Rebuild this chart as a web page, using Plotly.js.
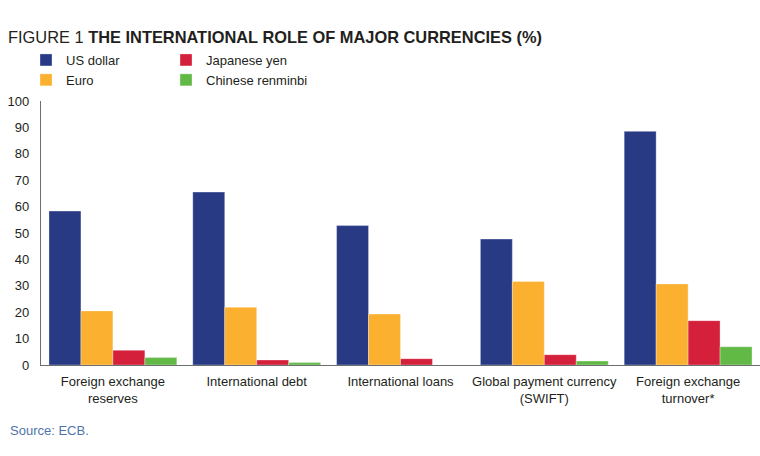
<!DOCTYPE html>
<html>
<head>
<meta charset="utf-8">
<script src="https://cdn.plot.ly/plotly-3.0.1.min.js"></script>
<style>
  html, body { margin: 0; padding: 0; background: #ffffff; }
  #chart { width: 760px; height: 456px; }
</style>
</head>
<body>
<div id="chart"></div>
<script>
// Share of each currency in five measures of international use (%)
const categories = [
  'Foreign exchange<br>reserves',
  'International debt',
  'International loans',
  'Global payment currency<br>(SWIFT)',
  'Foreign exchange<br>turnover*'
];
const usDollar  = [58.3, 65.5, 52.8, 47.7, 88.5];
const euro      = [20.5, 21.9, 19.3, 31.6, 30.7];
const yen       = [5.6, 1.9, 2.4, 3.9, 16.8];
const renminbi  = [2.8, 0.9, 0, 1.5, 6.9];
const yTicks    = [0, 10, 20, 30, 40, 50, 60, 70, 80, 90, 100];

const textColor = '#231f20';
const fontFamily = '"Liberation Sans", Arial, sans-serif';

// Plot area in pixels, used to place the source note in paper units
const W = 760, H = 456;
const M = { l: 41, r: 0, t: 101, b: 91 };
const plotW = W - M.l - M.r;
const plotH = H - M.t - M.b;

function barTrace(name, values, color, legendId, rank) {
  return {
    type: 'bar',
    name: name,
    x: categories,
    y: values,
    legend: legendId,
    legendrank: rank,
    marker: { color: color, line: { color: 'rgba(255,255,255,0.55)', width: 0.6 } },
    hoverinfo: 'skip'
  };
}

const data = [
  barTrace('US dollar', usDollar, '#283a83', 'legend', 1),
  barTrace('Euro', euro, '#fbb02f', 'legend', 2),
  barTrace('Japanese yen', yen, '#d5203b', 'legend2', 1),
  barTrace('Chinese renminbi', renminbi, '#62b946', 'legend2', 2)
];

const legendBase = {
  xref: 'container', yref: 'container',
  xanchor: 'left', yanchor: 'top',
  orientation: 'v',
  bgcolor: 'rgba(0,0,0,0)',
  borderwidth: 0,
  tracegroupgap: 0,
  itemwidth: 30,
  font: { family: fontFamily, size: 13, color: textColor }
};

const layout = {
  width: W,
  height: H,
  paper_bgcolor: '#ffffff',
  plot_bgcolor: '#ffffff',
  margin: Object.assign({}, M, { autoexpand: false }),
  barmode: 'group',
  bargap: 0.111,
  bargroupgap: 0,
  font: { family: fontFamily, size: 13, color: textColor },
  title: {
    text: 'FIGURE 1 <b>THE INTERNATIONAL ROLE OF MAJOR CURRENCIES (%)</b>',
    xref: 'container', yref: 'container',
    x: 8 / W, xanchor: 'left',
    y: 1 - 37 / H, yanchor: 'middle',
    font: { family: fontFamily, size: 16.4, color: textColor }
  },
  legend: Object.assign({}, legendBase, { x: 26 / W, y: 1 - 45 / H }),
  legend2: Object.assign({}, legendBase, { x: 166 / W, y: 1 - 45 / H }),
  xaxis: {
    type: 'category',
    showline: true,
    linecolor: '#6d6e71',
    linewidth: 1.2,
    ticks: '',
    tickangle: 0,
    showgrid: false,
    zeroline: false,
    tickfont: { family: fontFamily, size: 13, color: textColor },
    ticklabelstandoff: 4,
    fixedrange: true
  },
  yaxis: {
    range: [0, 100],
    tickvals: yTicks,
    showline: true,
    linecolor: '#6d6e71',
    linewidth: 1.2,
    ticks: '',
    showgrid: false,
    zeroline: false,
    tickfont: { family: fontFamily, size: 13, color: textColor },
    ticklabelstandoff: 8,
    fixedrange: true
  },
  annotations: [{
    text: 'Source: ECB.',
    xref: 'paper', yref: 'paper',
    x: (8 - M.l) / plotW, xanchor: 'left',
    y: -(430 - (M.t + plotH)) / plotH, yanchor: 'middle',
    showarrow: false,
    font: { family: fontFamily, size: 13, color: '#4f74ad' }
  }]
};

Plotly.newPlot('chart', data, layout, { displayModeBar: false, staticPlot: true });
</script>
</body>
</html>
